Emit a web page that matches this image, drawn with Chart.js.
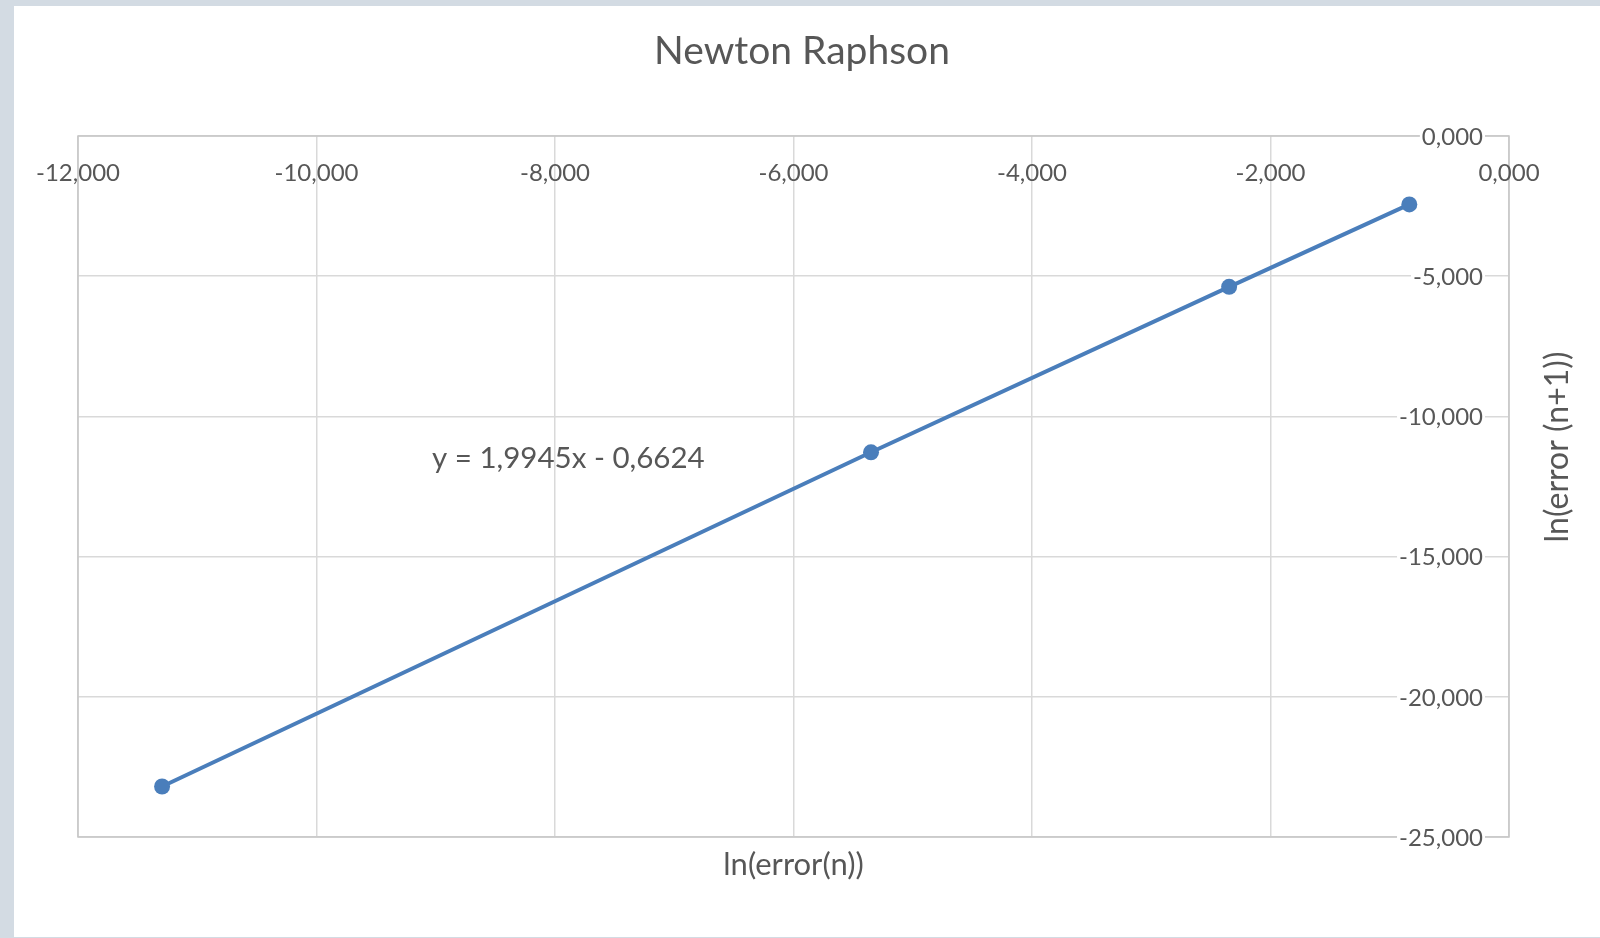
<!DOCTYPE html>
<html>
<head>
<meta charset="utf-8">
<title>Newton Raphson</title>
<script src="https://cdn.jsdelivr.net/npm/chart.js@4/dist/chart.umd.min.js"></script>
<style>
  html, body { margin: 0; padding: 0; background: #d3dbe3; }
  body { width: 1600px; height: 938px; overflow: hidden; position: relative; }
  #wrap { position: absolute; left: 14px; top: 6px; width: 1586px; height: 931px; background: #ffffff; }
  canvas { display: block; }
</style>
</head>
<body>
<div id="wrap"><canvas id="c" width="1586" height="931"></canvas></div>
<script>
// ln(error) pairs for the Newton–Raphson iterations
const lnErrorN = [-11.295, -5.350, -2.347, -0.836];
const lnErrorNext = [-23.20, -11.28, -5.38, -2.44];

// axis ticks
const xTicks = [-12, -10, -8, -6, -4, -2, 0];
const yTicks = [0, -5, -10, -15, -20, -25];

const chartTitle = 'Newton Raphson';
const xTitle = 'ln(error(n))';
const yTitle = 'ln(error (n+1))';
const trendLabel = 'y = 1,9945x - 0,6624';

const TEXT = '#575757';
const FONT = 'Lato, "Open Sans", sans-serif';
const fmt = v => v.toFixed(3).replace('.', ',');

const points = lnErrorN.map((x, i) => ({ x: x, y: lnErrorNext[i] }));

const textPlugin = {
  id: 'excelText',
  beforeDatasetsDraw(chart) {
    const { ctx, chartArea: a, scales } = chart;
    ctx.save();
    // plot border
    ctx.strokeStyle = '#c6c6c6';
    ctx.lineWidth = 1.5;
    ctx.strokeRect(a.left, a.top, a.right - a.left, a.bottom - a.top);
    // vertical axis labels, sitting inside the plot next to the right-hand axis
    ctx.font = '24px ' + FONT;
    ctx.textAlign = 'right';
    ctx.textBaseline = 'middle';
    yTicks.forEach(v => {
      const y = scales.y.getPixelForValue(v);
      const s = fmt(v);
      const w = ctx.measureText(s).width;
      const rx = a.right - 26;
      ctx.fillStyle = '#ffffff';
      ctx.fillRect(rx - w - 2, y - 11, w + 4, 22);
      ctx.fillStyle = TEXT;
      ctx.fillText(s, rx, y + 1);
    });
    // horizontal axis labels, below the top axis line
    ctx.textAlign = 'center';
    xTicks.forEach(v => {
      const x = scales.x.getPixelForValue(v);
      ctx.fillText(fmt(v), x, a.top + 37);
    });
    ctx.restore();
  },
  afterDraw(chart) {
    const { ctx, chartArea: a } = chart;
    ctx.save();
    ctx.fillStyle = TEXT;
    ctx.textBaseline = 'middle';
    ctx.textAlign = 'center';
    ctx.font = '39px ' + FONT;
    ctx.fillText(chartTitle, 788, 45);
    ctx.font = '31px ' + FONT;
    ctx.fillText(xTitle, (a.left + a.right) / 2, a.bottom + 28);
    ctx.save();
    ctx.translate(1544, 441);
    ctx.rotate(-Math.PI / 2);
    ctx.font = '32px ' + FONT;
    ctx.fillText(yTitle, 0, 0);
    ctx.restore();
    ctx.textAlign = 'left';
    ctx.font = '29.5px ' + FONT;
    ctx.fillText(trendLabel, 418, 452);
    ctx.restore();
  }
};

new Chart(document.getElementById('c'), {
  type: 'scatter',
  data: {
    datasets: [{
      data: points,
      showLine: true,
      borderColor: '#4a7ebb',
      backgroundColor: '#4a7ebb',
      borderWidth: 4,
      pointRadius: 8,
      pointHoverRadius: 8,
      pointBorderWidth: 0,
      tension: 0
    }]
  },
  options: {
    responsive: false,
    animation: false,
    events: [],
    layout: { padding: { left: 64, top: 130, right: 91, bottom: 100 } },
    plugins: { legend: { display: false }, tooltip: { enabled: false }, title: { display: false } },
    scales: {
      x: {
        type: 'linear',
        position: 'top',
        min: -12, max: 0,
        afterBuildTicks: s => { s.ticks = xTicks.map(v => ({ value: v })); },
        afterFit: s => { s.height = 0; },
        ticks: { display: false },
        border: { display: false },
        grid: { color: '#d9d9d9', lineWidth: 1.5, drawTicks: false }
      },
      y: {
        type: 'linear',
        position: 'right',
        min: -25, max: 0,
        afterBuildTicks: s => { s.ticks = yTicks.map(v => ({ value: v })); },
        afterFit: s => { s.width = 0; },
        ticks: { display: false },
        border: { display: false },
        grid: { color: '#d9d9d9', lineWidth: 1.5, drawTicks: false }
      }
    }
  },
  plugins: [textPlugin]
});
</script>
</body>
</html>
